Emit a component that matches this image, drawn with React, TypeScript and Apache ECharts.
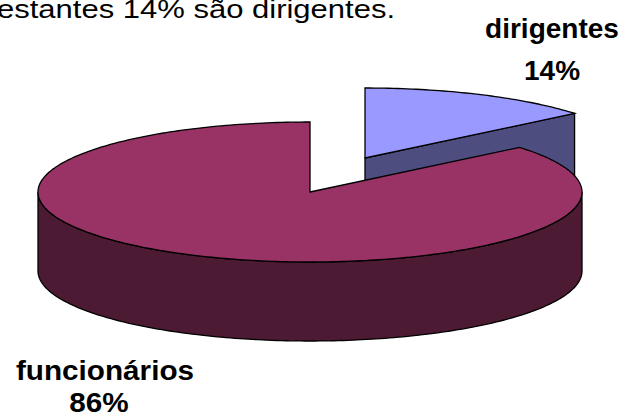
import React, { useEffect, useRef } from "react";
import * as echarts from "echarts";

const categories = ["dirigentes", "funcionários"];
const values = [14, 86];
const headline = "estantes 14% são dirigentes.";

// layout / style
const CX = 310;
const CY = 192;
const RX = 272;
const RY = 70;
const DEPTH = 79;
const offsets = [
  [55, -34],
  [0, 0],
];
const topColors = ["#9999FF", "#993366"];
const sideColors = ["#4D4D80", "#4D1A33"];
const labelPos = [
  { x: 552, y1: 28, x2: 552, y2: 70, scaleX: 1.0 },
  { x: 105, y1: 370, x2: 99, y2: 402, scaleX: 1.06 },
];
const FONT = '"Liberation Sans", Arial, sans-serif';

function pt(cx: number, cy: number, th: number, dy = 0): number[] {
  return [cx + RX * Math.sin(th), cy - RY * Math.cos(th) + dy];
}

function arc(cx: number, cy: number, a: number, b: number, dy = 0): number[][] {
  const pts: number[][] = [];
  const steps = Math.max(2, Math.ceil(((b - a) * 180) / Math.PI));
  for (let k = 0; k <= steps; k++) {
    pts.push(pt(cx, cy, a + ((b - a) * k) / steps, dy));
  }
  return pts;
}

export default function App() {
  const ref = useRef<HTMLDivElement>(null);
  useEffect(() => {
    if (!ref.current) return;
    const chart = echarts.init(ref.current, undefined, { renderer: "svg" });
    const total = values.reduce((s, v) => s + v, 0);
    const stroke = { stroke: "#000", lineWidth: 1.3 };

    const renderItem = (params: any) => {
      const i = params.dataIndex;
      let before = 0;
      for (let k = 0; k < i; k++) before += values[k];
      const a = (before / total) * Math.PI * 2;
      const b = ((before + values[i]) / total) * Math.PI * 2;
      const cx = CX + offsets[i][0];
      const cy = CY + offsets[i][1];
      const children: any[] = [];
      const base = i * 10;

      // radial faces
      const faces = [
        { ang: a, psi: a - Math.PI / 2 },
        { ang: b, psi: b + Math.PI / 2 },
      ];
      faces.forEach((f) => {
        if (Math.cos(f.psi - Math.PI) > 1e-6) {
          const p = pt(cx, cy, f.ang);
          children.push({
            type: "polygon",
            z2: base + 1,
            shape: {
              points: [
                [cx, cy],
                p,
                [p[0], p[1] + DEPTH],
                [cx, cy + DEPTH],
              ],
            },
            style: { fill: sideColors[i], ...stroke },
          });
        }
      });

      // outer side (front half)
      const ranges = [
        [Math.PI / 2, (3 * Math.PI) / 2],
        [(5 * Math.PI) / 2, (7 * Math.PI) / 2],
      ];
      ranges.forEach(([lo, hi]) => {
        const s = Math.max(a, lo);
        const e = Math.min(b, hi);
        if (e > s) {
          const topArc = arc(cx, cy, s, e);
          const botArc = arc(cx, cy, s, e, DEPTH).reverse();
          children.push({
            type: "polygon",
            z2: base + 2,
            shape: { points: topArc.concat(botArc) },
            style: { fill: sideColors[i], ...stroke },
          });
        }
      });

      // top face
      children.push({
        type: "polygon",
        z2: base + 3,
        shape: { points: [[cx, cy]].concat(arc(cx, cy, a, b)) },
        style: { fill: topColors[i], ...stroke, lineJoin: "miter" },
      });

      // labels
      const lp = labelPos[i];
      children.push({
        type: "text",
        z2: 100,
        x: lp.x,
        y: lp.y1,
        scaleX: lp.scaleX,
        style: {
          text: categories[i],
          font: `bold 28px ${FONT}`,
          fill: "#000",
          align: "center",
          verticalAlign: "middle",
        },
      });
      children.push({
        type: "text",
        z2: 100,
        x: lp.x2,
        y: lp.y2,
        scaleX: lp.scaleX,
        style: {
          text: `${values[i]}%`,
          font: `bold 28px ${FONT}`,
          fill: "#000",
          align: "center",
          verticalAlign: "middle",
        },
      });

      return { type: "group", children };
    };

    chart.setOption({
      animation: false,
      backgroundColor: "#fff",
      graphic: [
        {
          type: "text",
          x: -3,
          y: 10,
          scaleX: 1.24,
          style: {
            text: headline,
            font: `25px ${FONT}`,
            fill: "#000",
            align: "left",
            verticalAlign: "middle",
          },
        },
      ],
      series: [
        {
          type: "custom",
          coordinateSystem: "none",
          renderItem,
          data: categories.map((c, i) => ({ name: c, value: values[i] })),
        },
      ],
    });
    return () => chart.dispose();
  }, []);
  return <div ref={ref} style={{ width: 626, height: 414, position: "absolute", left: 0, top: 0 }} />;
}
